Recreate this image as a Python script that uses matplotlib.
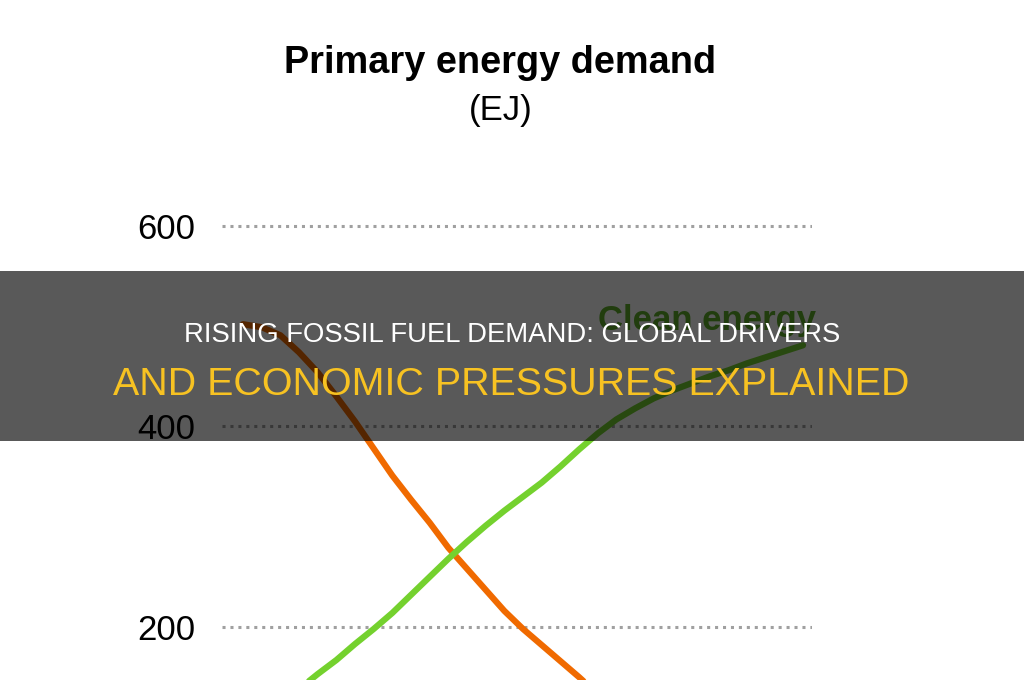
import matplotlib.pyplot as plt
from matplotlib.patches import Rectangle

# values (EJ)
years = list(range(2020, 2041))
fossil = [502, 499, 491, 474, 454, 430, 405, 378, 351, 327, 304,
          279, 258, 237, 216, 198, 182, 166, 150, 133, 116]

clean_years = list(range(2022, 2051))
clean = [123, 138, 153, 167, 183, 198, 214, 232, 250, 268, 285, 301, 316, 330, 344,
         360, 377, 393, 407, 418, 428, 436, 443, 450, 456, 463, 469, 475, 481]

yticks = [200, 400, 600]

title = 'Primary energy demand'
unit = '(EJ)'
banner_top = 'RISING FOSSIL FUEL DEMAND: GLOBAL DRIVERS'
banner_bottom = 'AND ECONOMIC PRESSURES EXPLAINED'

plt.rcParams['font.family'] = ['Liberation Sans', 'DejaVu Sans']

fig = plt.figure(figsize=(10.24, 6.8), dpi=100)
fig.patch.set_facecolor('white')
ax = fig.add_axes([222 / 1024, 0, 590 / 1024, 1])
ax.set_xlim(2018.875, 2050.48)
ax.set_ylim(147.1, 825.4)

for y in yticks:
    ax.axhline(y, color='#a0a0a0', lw=2.2, ls=(0, (1, 1.6)), zorder=1)

ax.plot(years, fossil, color='#f06a00', lw=4.5, solid_capstyle='round',
        solid_joinstyle='round', zorder=3)
ax.plot(clean_years, clean, color='#74d12e', lw=4.5, solid_capstyle='round',
        solid_joinstyle='round', zorder=3)

ax.text(2039.0, 496, 'Clean energy', color='#5fae2a', fontsize=25,
        fontweight='bold', ha='left', va='baseline', zorder=4)

ax.set_yticks(yticks)
ax.set_yticklabels([str(t) for t in yticks], fontsize=25)
ax.tick_params(axis='y', length=0, pad=19)
ax.set_xticks([])
for s in ax.spines.values():
    s.set_visible(False)

fig.text(500 / 1024, 1 - 73 / 680, title, fontsize=27.3, fontweight='bold',
         ha='center', va='baseline')
fig.text(501 / 1024, 1 - 120 / 680, unit, fontsize=25, ha='center', va='baseline')

# dark banner on top
fig.patches.append(Rectangle((0, 1 - 441 / 680), 1, 170 / 680, transform=fig.transFigure,
                             facecolor='black', alpha=0.65, zorder=10))
fig.text(512 / 1024, 1 - 342 / 680, banner_top, color='white', fontsize=19.8,
         ha='center', va='baseline', zorder=11)
fig.text(511 / 1024, 1 - 395 / 680, banner_bottom, color='#f7c222', fontsize=28.4,
         ha='center', va='baseline', zorder=11)

fig.savefig('out.png', dpi=100)
